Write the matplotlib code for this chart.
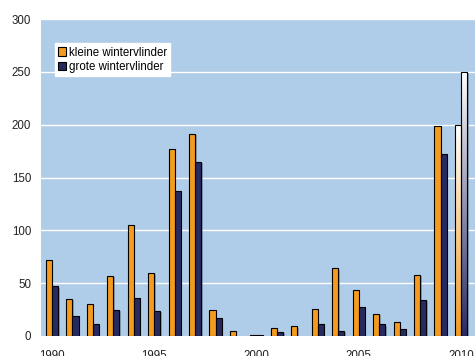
import numpy as np
import matplotlib
matplotlib.use("Agg")
import matplotlib.pyplot as plt
from matplotlib.colors import LinearSegmentedColormap
from matplotlib.patches import Patch

plt.rcParams["font.family"] = ["Liberation Sans", "DejaVu Sans"]

years = list(range(1990, 2011))
kleine = [72, 35, 30, 57, 105, 60, 177, 191, 25, 5, 1, 8, 9, 26, 64, 44, 21, 13, 58, 199, 200]
grote = [47, 19, 11, 25, 36, 24, 137, 165, 17, 0, 1, 4, 0, 11, 5, 27, 11, 7, 34, 172, 250]
y_ticks = [0, 50, 100, 150, 200, 250, 300]
x_ticks = [1990, 1995, 2000, 2005, 2010]

ORANGE = "#f39a1f"
NAVY = "#262a60"
BG = "#afcce8"
BAR_W = 0.3

fig = plt.figure(figsize=(4.75, 3.56), dpi=100)
ax = fig.add_axes([0.0863, 0.0562, 0.9137, 0.8904])
ax.set_facecolor(BG)

for y in y_ticks[1:]:
    ax.axhline(y, color="white", lw=1.0, zorder=1)

x = np.array(years, dtype=float)
# the last year is a provisional count, drawn with a gradient fill
last = len(years) - 1


def draw_series(xpos, values, color):
    for i, (xi, v) in enumerate(zip(xpos, values)):
        if v <= 0:
            continue
        ax.bar(xi + 0.07, v, width=BAR_W, bottom=-1.2, align="edge",
               color="#55606e", alpha=0.45, lw=0, zorder=2)
        if i == last:
            bar = ax.bar(xi, v, width=BAR_W, align="edge", facecolor="none",
                         edgecolor="black", lw=0.8, zorder=4)[0]
            cmap = LinearSegmentedColormap.from_list("fade", [color, "white"])
            grad = np.linspace(0, 1, 256).reshape(-1, 1)
            im = ax.imshow(grad, cmap=cmap, aspect="auto", origin="lower",
                           extent=(xi, xi + BAR_W, 0, v), zorder=3)
            im.set_clip_path(bar)
        else:
            ax.bar(xi, v, width=BAR_W, align="edge", color=color,
                   edgecolor="black", lw=0.8, zorder=3)


draw_series(x - BAR_W, kleine, ORANGE)
draw_series(x, grote, NAVY)
ax.set_xlim(1989.462, 2010.685)
ax.set_ylim(0, 300)

ax.set_yticks(y_ticks)
ax.set_xticks(x_ticks)
ax.tick_params(axis="both", length=0, labelsize=8.3, colors="#222222")
ax.tick_params(axis="y", pad=7)
ax.tick_params(axis="x", pad=10)
for s in ax.spines.values():
    s.set_visible(False)

handles = [
    Patch(facecolor=ORANGE, edgecolor="black", lw=0.8, label="kleine wintervlinder"),
    Patch(facecolor=NAVY, edgecolor="black", lw=0.8, label="grote wintervlinder"),
]
leg = ax.legend(handles=handles, loc="upper left", bbox_to_anchor=(0.032, 0.924),
                borderaxespad=0, frameon=True, fancybox=False, fontsize=8.3,
                handlelength=0.7, handleheight=0.7, handletextpad=0.2,
                labelspacing=0.2, borderpad=0.3)
leg.get_frame().set_facecolor("white")
leg.get_frame().set_edgecolor("white")
leg.get_frame().set_alpha(1)
leg.set_zorder(5)

fig.savefig("out.png", dpi=100)
